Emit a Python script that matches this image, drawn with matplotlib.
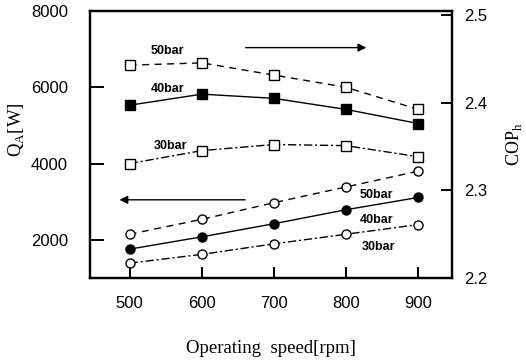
import matplotlib
matplotlib.use("Agg")
import matplotlib.pyplot as plt

# operating speed [rpm]
speed = [500, 600, 700, 800, 900]

# heating capacity Q_A [W]
qa_50 = [6580, 6640, 6320, 6000, 5420]
qa_40 = [5530, 5820, 5710, 5420, 5050]
qa_30 = [4000, 4340, 4500, 4470, 4180]

# COP_h
cop_50 = [2.250, 2.267, 2.286, 2.304, 2.322]
cop_40 = [2.233, 2.247, 2.262, 2.278, 2.292]
cop_30 = [2.217, 2.227, 2.239, 2.250, 2.261]

sans = "Liberation Sans"
serif = "Liberation Serif"

fig = plt.figure(figsize=(5.26, 3.62), dpi=100)
ax = fig.add_axes([90/526, 1-278/362, (452-90)/526, (278-11)/362])
ax2 = ax.twinx()

dashdot = (0, (6, 2, 1.5, 2))
mk = dict(markersize=6.5, markeredgewidth=1.0, color="black", linewidth=1.0)

# capacity (squares, left axis)
ax.plot(speed, qa_50, linestyle=(0, (5, 4)), marker="s", markerfacecolor="white", **mk)
ax.plot(speed, qa_40, linestyle="-", marker="s", markerfacecolor="black", **mk)
ax.plot(speed, qa_30, linestyle=dashdot, marker="s", markerfacecolor="white", **mk)

# COP (circles, right axis)
ax2.plot(speed, cop_50, linestyle=(0, (5, 4)), marker="o", markerfacecolor="white", **mk)
ax2.plot(speed, cop_40, linestyle="-", marker="o", markerfacecolor="black", **mk)
ax2.plot(speed, cop_30, linestyle=dashdot, marker="o", markerfacecolor="white", **mk)

ax.set_xlim(445, 947)
ax.set_ylim(1000, 8000)
ax2.set_ylim(2.2, 2.505)

ax.set_xticks(speed)
ax.set_yticks([2000, 4000, 6000, 8000])
ax2.set_yticks([2.2, 2.3, 2.4, 2.5])
ax2.set_yticklabels(["2.2", "2.3", "2.4", "2.5"])

for a in (ax, ax2):
    for s in a.spines.values():
        s.set_linewidth(1.6)
ax.tick_params(axis="x", direction="in", length=8, width=1.4, pad=13, labelsize=12)
ax.tick_params(axis="y", direction="in", length=10, width=1.4, pad=16, labelsize=12)
ax2.tick_params(axis="y", direction="in", length=8, width=1.4, pad=9, labelsize=12)
for lab in ax.get_xticklabels() + ax.get_yticklabels() + ax2.get_yticklabels():
    lab.set_fontfamily(sans)

ax.set_xlabel("Operating  speed[rpm]", fontfamily=serif, fontsize=13.5, labelpad=21)
ax.set_ylabel(r"Q$_\mathregular{A}$[W]", fontfamily=serif, fontsize=13.5)
ax.yaxis.set_label_coords(-0.175, 0.555)
ax2.set_ylabel(r"COP$_\mathregular{h}$", fontfamily=serif, fontsize=13, labelpad=12)

# direction arrows
ax.annotate("", xy=(832, 7040), xytext=(657, 7040),
            arrowprops=dict(arrowstyle="-|>", color="black", lw=1.0, mutation_scale=12))
ax.annotate("", xy=(482, 3050), xytext=(664, 3050),
            arrowprops=dict(arrowstyle="-|>", color="black", lw=1.0, mutation_scale=12))

# pressure labels
lbl = dict(fontfamily=sans, fontsize=9, fontweight="bold", ha="left", va="center")
ax.text(529, 6950, "50bar", **lbl)
ax.text(529, 5960, "40bar", **lbl)
ax.text(533, 4470, "30bar", **lbl)
ax.text(819, 3170, "50bar", **lbl)
ax.text(819, 2510, "40bar", **lbl)
ax.text(822, 1800, "30bar", **lbl)

fig.savefig("out.png", dpi=100)
